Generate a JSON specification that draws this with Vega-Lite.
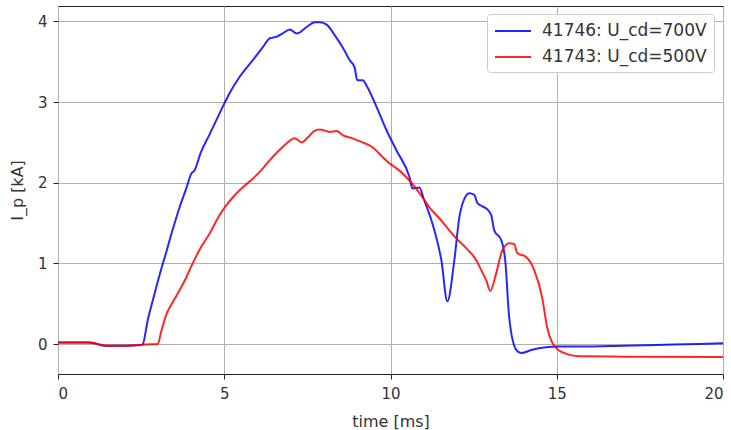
{
  "$schema": "https://vega.github.io/schema/vega-lite/v6.json",
  "width": 665,
  "height": 368,
  "autosize": "none",
  "padding": {"left": 58, "top": 6, "right": 8, "bottom": 56},
  "background": "white",
  "config": {
    "font": "DejaVu Sans",
    "view": {"stroke": "#222", "strokeWidth": 1},
    "axis": {
      "grid": true, "gridColor": "#b0b0b0", "gridWidth": 1,
      "domain": false, "tickColor": "#222", "tickSize": 5,
      "labelFont": "DejaVu Sans", "labelFontSize": 15, "labelColor": "#333",
      "titleFont": "DejaVu Sans", "titleFontSize": 16, "titleFontWeight": "normal", "titleColor": "#333"
    }
  },
  "data": {"values": [
    {"t":0,"y":0.02,"s":"41746: U_cd=700V"},
    {"t":0.9,"y":0.02,"s":"41746: U_cd=700V"},
    {"t":1.1,"y":0.01,"s":"41746: U_cd=700V"},
    {"t":1.4,"y":-0.02,"s":"41746: U_cd=700V"},
    {"t":2.0,"y":-0.02,"s":"41746: U_cd=700V"},
    {"t":2.5,"y":-0.01,"s":"41746: U_cd=700V"},
    {"t":2.55,"y":0.0,"s":"41746: U_cd=700V"},
    {"t":2.7,"y":0.3,"s":"41746: U_cd=700V"},
    {"t":2.85,"y":0.54,"s":"41746: U_cd=700V"},
    {"t":3.05,"y":0.85,"s":"41746: U_cd=700V"},
    {"t":3.27,"y":1.16,"s":"41746: U_cd=700V"},
    {"t":3.45,"y":1.42,"s":"41746: U_cd=700V"},
    {"t":3.66,"y":1.70,"s":"41746: U_cd=700V"},
    {"t":3.85,"y":1.92,"s":"41746: U_cd=700V"},
    {"t":4.02,"y":2.12,"s":"41746: U_cd=700V"},
    {"t":4.1,"y":2.15,"s":"41746: U_cd=700V"},
    {"t":4.3,"y":2.38,"s":"41746: U_cd=700V"},
    {"t":4.56,"y":2.6,"s":"41746: U_cd=700V"},
    {"t":4.86,"y":2.86,"s":"41746: U_cd=700V"},
    {"t":5.0,"y":2.98,"s":"41746: U_cd=700V"},
    {"t":5.16,"y":3.11,"s":"41746: U_cd=700V"},
    {"t":5.46,"y":3.31,"s":"41746: U_cd=700V"},
    {"t":5.86,"y":3.52,"s":"41746: U_cd=700V"},
    {"t":6.16,"y":3.68,"s":"41746: U_cd=700V"},
    {"t":6.37,"y":3.79,"s":"41746: U_cd=700V"},
    {"t":6.58,"y":3.81,"s":"41746: U_cd=700V"},
    {"t":6.76,"y":3.85,"s":"41746: U_cd=700V"},
    {"t":6.97,"y":3.90,"s":"41746: U_cd=700V"},
    {"t":7.18,"y":3.85,"s":"41746: U_cd=700V"},
    {"t":7.48,"y":3.93,"s":"41746: U_cd=700V"},
    {"t":7.72,"y":3.99,"s":"41746: U_cd=700V"},
    {"t":7.87,"y":3.99,"s":"41746: U_cd=700V"},
    {"t":8.08,"y":3.96,"s":"41746: U_cd=700V"},
    {"t":8.32,"y":3.83,"s":"41746: U_cd=700V"},
    {"t":8.56,"y":3.68,"s":"41746: U_cd=700V"},
    {"t":8.77,"y":3.52,"s":"41746: U_cd=700V"},
    {"t":8.92,"y":3.43,"s":"41746: U_cd=700V"},
    {"t":9.0,"y":3.27,"s":"41746: U_cd=700V"},
    {"t":9.16,"y":3.27,"s":"41746: U_cd=700V"},
    {"t":9.31,"y":3.18,"s":"41746: U_cd=700V"},
    {"t":9.58,"y":2.94,"s":"41746: U_cd=700V"},
    {"t":9.88,"y":2.65,"s":"41746: U_cd=700V"},
    {"t":10.18,"y":2.40,"s":"41746: U_cd=700V"},
    {"t":10.57,"y":2.07,"s":"41746: U_cd=700V"},
    {"t":10.66,"y":1.93,"s":"41746: U_cd=700V"},
    {"t":10.87,"y":1.94,"s":"41746: U_cd=700V"},
    {"t":11.0,"y":1.80,"s":"41746: U_cd=700V"},
    {"t":11.32,"y":1.41,"s":"41746: U_cd=700V"},
    {"t":11.53,"y":1.04,"s":"41746: U_cd=700V"},
    {"t":11.71,"y":0.53,"s":"41746: U_cd=700V"},
    {"t":11.92,"y":1.04,"s":"41746: U_cd=700V"},
    {"t":12.07,"y":1.57,"s":"41746: U_cd=700V"},
    {"t":12.2,"y":1.78,"s":"41746: U_cd=700V"},
    {"t":12.37,"y":1.87,"s":"41746: U_cd=700V"},
    {"t":12.52,"y":1.85,"s":"41746: U_cd=700V"},
    {"t":12.61,"y":1.75,"s":"41746: U_cd=700V"},
    {"t":12.75,"y":1.71,"s":"41746: U_cd=700V"},
    {"t":12.88,"y":1.68,"s":"41746: U_cd=700V"},
    {"t":13.03,"y":1.60,"s":"41746: U_cd=700V"},
    {"t":13.12,"y":1.41,"s":"41746: U_cd=700V"},
    {"t":13.33,"y":1.29,"s":"41746: U_cd=700V"},
    {"t":13.45,"y":1.04,"s":"41746: U_cd=700V"},
    {"t":13.57,"y":0.33,"s":"41746: U_cd=700V"},
    {"t":13.78,"y":-0.07,"s":"41746: U_cd=700V"},
    {"t":13.93,"y":-0.11,"s":"41746: U_cd=700V"},
    {"t":14.26,"y":-0.07,"s":"41746: U_cd=700V"},
    {"t":14.68,"y":-0.04,"s":"41746: U_cd=700V"},
    {"t":15.0,"y":-0.03,"s":"41746: U_cd=700V"},
    {"t":15.68,"y":-0.03,"s":"41746: U_cd=700V"},
    {"t":17.0,"y":-0.02,"s":"41746: U_cd=700V"},
    {"t":18.5,"y":-0.005,"s":"41746: U_cd=700V"},
    {"t":20.0,"y":0.01,"s":"41746: U_cd=700V"},
    {"t":0,"y":0.02,"s":"41743: U_cd=500V"},
    {"t":1.0,"y":0.02,"s":"41743: U_cd=500V"},
    {"t":1.2,"y":0.0,"s":"41743: U_cd=500V"},
    {"t":1.5,"y":-0.02,"s":"41743: U_cd=500V"},
    {"t":2.0,"y":-0.02,"s":"41743: U_cd=500V"},
    {"t":2.5,"y":-0.01,"s":"41743: U_cd=500V"},
    {"t":2.8,"y":0.0,"s":"41743: U_cd=500V"},
    {"t":3.0,"y":0.0,"s":"41743: U_cd=500V"},
    {"t":3.1,"y":0.15,"s":"41743: U_cd=500V"},
    {"t":3.27,"y":0.38,"s":"41743: U_cd=500V"},
    {"t":3.45,"y":0.52,"s":"41743: U_cd=500V"},
    {"t":3.66,"y":0.67,"s":"41743: U_cd=500V"},
    {"t":3.85,"y":0.82,"s":"41743: U_cd=500V"},
    {"t":4.05,"y":1.0,"s":"41743: U_cd=500V"},
    {"t":4.3,"y":1.2,"s":"41743: U_cd=500V"},
    {"t":4.56,"y":1.37,"s":"41743: U_cd=500V"},
    {"t":4.86,"y":1.6,"s":"41743: U_cd=500V"},
    {"t":5.1,"y":1.74,"s":"41743: U_cd=500V"},
    {"t":5.37,"y":1.87,"s":"41743: U_cd=500V"},
    {"t":5.6,"y":1.96,"s":"41743: U_cd=500V"},
    {"t":5.86,"y":2.05,"s":"41743: U_cd=500V"},
    {"t":6.1,"y":2.15,"s":"41743: U_cd=500V"},
    {"t":6.37,"y":2.28,"s":"41743: U_cd=500V"},
    {"t":6.6,"y":2.38,"s":"41743: U_cd=500V"},
    {"t":6.88,"y":2.49,"s":"41743: U_cd=500V"},
    {"t":7.12,"y":2.55,"s":"41743: U_cd=500V"},
    {"t":7.33,"y":2.50,"s":"41743: U_cd=500V"},
    {"t":7.51,"y":2.56,"s":"41743: U_cd=500V"},
    {"t":7.7,"y":2.64,"s":"41743: U_cd=500V"},
    {"t":7.87,"y":2.66,"s":"41743: U_cd=500V"},
    {"t":8.17,"y":2.63,"s":"41743: U_cd=500V"},
    {"t":8.38,"y":2.64,"s":"41743: U_cd=500V"},
    {"t":8.56,"y":2.59,"s":"41743: U_cd=500V"},
    {"t":8.86,"y":2.55,"s":"41743: U_cd=500V"},
    {"t":9.16,"y":2.50,"s":"41743: U_cd=500V"},
    {"t":9.46,"y":2.44,"s":"41743: U_cd=500V"},
    {"t":9.76,"y":2.32,"s":"41743: U_cd=500V"},
    {"t":9.97,"y":2.24,"s":"41743: U_cd=500V"},
    {"t":10.27,"y":2.15,"s":"41743: U_cd=500V"},
    {"t":10.63,"y":2.0,"s":"41743: U_cd=500V"},
    {"t":10.96,"y":1.82,"s":"41743: U_cd=500V"},
    {"t":11.2,"y":1.68,"s":"41743: U_cd=500V"},
    {"t":11.47,"y":1.56,"s":"41743: U_cd=500V"},
    {"t":11.75,"y":1.42,"s":"41743: U_cd=500V"},
    {"t":11.98,"y":1.31,"s":"41743: U_cd=500V"},
    {"t":12.3,"y":1.18,"s":"41743: U_cd=500V"},
    {"t":12.58,"y":1.04,"s":"41743: U_cd=500V"},
    {"t":12.75,"y":0.9,"s":"41743: U_cd=500V"},
    {"t":12.88,"y":0.79,"s":"41743: U_cd=500V"},
    {"t":13.0,"y":0.66,"s":"41743: U_cd=500V"},
    {"t":13.18,"y":0.88,"s":"41743: U_cd=500V"},
    {"t":13.36,"y":1.16,"s":"41743: U_cd=500V"},
    {"t":13.57,"y":1.25,"s":"41743: U_cd=500V"},
    {"t":13.72,"y":1.24,"s":"41743: U_cd=500V"},
    {"t":13.81,"y":1.13,"s":"41743: U_cd=500V"},
    {"t":14.08,"y":1.08,"s":"41743: U_cd=500V"},
    {"t":14.32,"y":0.92,"s":"41743: U_cd=500V"},
    {"t":14.56,"y":0.58,"s":"41743: U_cd=500V"},
    {"t":14.71,"y":0.21,"s":"41743: U_cd=500V"},
    {"t":14.85,"y":0.03,"s":"41743: U_cd=500V"},
    {"t":14.98,"y":-0.05,"s":"41743: U_cd=500V"},
    {"t":15.29,"y":-0.12,"s":"41743: U_cd=500V"},
    {"t":15.68,"y":-0.15,"s":"41743: U_cd=500V"},
    {"t":17.0,"y":-0.155,"s":"41743: U_cd=500V"},
    {"t":20.0,"y":-0.16,"s":"41743: U_cd=500V"}
  ]},
  "mark": {"type": "line", "strokeWidth": 2, "opacity": 0.85, "interpolate": "monotone", "clip": true},
  "encoding": {
    "x": {"field": "t", "type": "quantitative", "title": "time [ms]",
          "scale": {"domain": [0, 20], "nice": false, "zero": false},
          "axis": {"values": [0, 5, 10, 15, 20], "labelPadding": 7, "titlePadding": 12}},
    "y": {"field": "y", "type": "quantitative", "title": "I_p [kA]",
          "scale": {"domain": [-0.37, 4.19], "nice": false, "zero": false},
          "axis": {"values": [0, 1, 2, 3, 4], "labelPadding": 6, "titlePadding": 12}},
    "color": {"field": "s", "type": "nominal", "title": null,
              "scale": {"domain": ["41746: U_cd=700V", "41743: U_cd=500V"], "range": ["#0000ff", "#ff0000"]},
              "legend": {"orient": "none", "legendX": 429, "legendY": 8,
                         "symbolType": "M-1,0H3", "symbolSize": 324, "symbolStrokeWidth": 2, "symbolOpacity": 0.85,
                         "symbolFillColor": "transparent",
                         "labelFontSize": 17, "labelLimit": 400, "labelColor": "#333", "labelFont": "DejaVu Sans",
                         "rowPadding": 8, "padding": 7, "fillColor": "white", "strokeColor": "#cccccc",
                         "cornerRadius": 3, "labelOffset": 28}},
    "order": {"field": "t", "type": "quantitative"}
  }
}
